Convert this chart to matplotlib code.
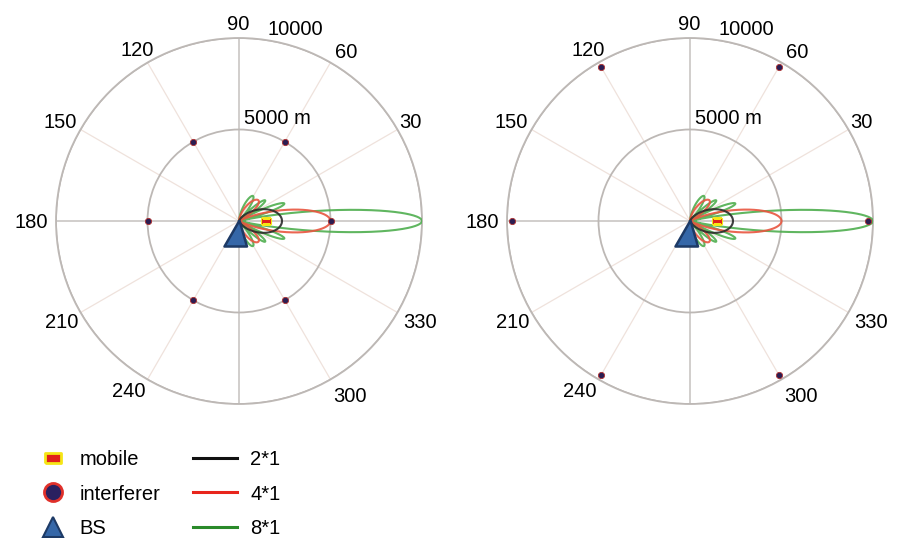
import numpy as np
import matplotlib.pyplot as plt
from matplotlib.lines import Line2D

plt.rcParams['font.family'] = ['Liberation Sans', 'DejaVu Sans']

# beams: array size, peak coverage range (m), colour
array_labels = ['2*1', '4*1', '8*1']
n_elements = [2, 4, 8]
peak_range = [2350, 5000, 10000]
beam_colors = ['#2b2b2b', '#e8553f', '#4fae4f']

# users
mobile_range = 1500
mobile_angle = 0
interferer_angles = [0, 60, 120, 180, 240, 300]
interferer_range = [5000, 9700]   # left panel, right panel

r_max = 10000
r_rings = [5000, 10000]
ring_labels = ['5000 m', '10000']
theta_label_angles = [30, 60, 90, 120, 150, 180, 210, 240, 300, 330]
theta_labels = ['30', '60', '90', '120', '150', '180', '210', '240', '300', '330']

# where each angle label sits relative to its point on the outer ring (pixels)
label_shift = [(12.5, 7.5), (15.5, 10.5), (-1, 14), (-10.5, 12.5), (-20.5, 6.5),
               (-25, -1), (-18.5, -9.5), (-18.5, -12.5), (19.5, -17.5), (22.5, -9.5)]

FS = 14.5
bs_marker = [(0, 0.04), (-0.6, -1), (0.3, -1), (0, 0.04)]
mobile_marker = [(-1, -0.6), (1, -0.6), (1, 0.6), (-1, 0.6), (-1, -0.6)]


def beam_pattern(n, r_peak, spacing=0.5, p_main=1.8, p_side=0.9):
    # uniform linear array factor, front half-plane only;
    # main lobe and side lobes are scaled to range separately
    th = np.linspace(-np.pi / 2, np.pi / 2, 2001)
    psi = 2 * np.pi * spacing * np.sin(th)
    den = n * np.sin(psi / 2)
    safe = np.where(np.abs(den) < 1e-12, 1.0, den)
    af = np.where(np.abs(den) < 1e-12, 1.0, np.abs(np.sin(n * psi / 2) / safe))
    in_main = np.abs(np.sin(th)) < 1 / (n * spacing)
    return th, r_peak * af ** np.where(in_main, p_main, p_side)


def draw_panel(ax, r_int):
    ax.set_ylim(0, r_max)
    ax.set_yticks(r_rings)
    ax.set_yticklabels([])
    grid_angles = np.arange(0, 360, 30)
    ax.set_xticks(np.deg2rad(grid_angles))
    ax.set_xticklabels([])
    ax.tick_params(length=0)
    ax.spines['polar'].set_color('#bdb8b5')
    ax.spines['polar'].set_linewidth(1.3)
    for line in ax.yaxis.get_gridlines():
        line.set_color('#bdb8b5')
        line.set_linewidth(1.3)
        line.set_linestyle('-')
    for ang, line in zip(grid_angles, ax.xaxis.get_gridlines()):
        line.set_linestyle('-')
        if ang % 90 == 0:
            line.set_color('#c9c6c4')
            line.set_linewidth(1.2)
        else:
            line.set_color('#efe2dc')
            line.set_linewidth(0.9)

    # angle labels just outside the outer ring
    for ang, lab, (sx, sy) in zip(theta_label_angles, theta_labels, label_shift):
        ax.annotate(lab, (np.deg2rad(ang), r_max), xytext=(0.72 * sx, 0.72 * sy),
                    textcoords='offset points', ha='center', va='center', fontsize=FS,
                    annotation_clip=False)

    ax.annotate(ring_labels[0], (np.deg2rad(87), r_rings[0]), xytext=(0, 1.5),
                textcoords='offset points', ha='left', va='bottom', fontsize=FS)
    ax.annotate(ring_labels[1], (np.deg2rad(81), r_rings[1]), xytext=(0, 1),
                textcoords='offset points', ha='left', va='bottom', fontsize=FS,
                annotation_clip=False)

    # beams, widest first so the 2*1 lobe sits on top
    for n, rp, col, z in zip(n_elements[::-1], peak_range[::-1], beam_colors[::-1], [3, 4, 5]):
        th, rr = beam_pattern(n, rp)
        ax.plot(th, rr, color=col, lw=1.5, alpha=0.9, zorder=z)

    ax.plot(np.deg2rad(interferer_angles), [r_int] * len(interferer_angles), 'o', ls='none',
            ms=4.5, mfc='#2b1d52', mec='#b03030', mew=0.6, zorder=6)
    ax.plot(np.deg2rad(mobile_angle), mobile_range, marker=mobile_marker, ms=6.5,
            mfc='#e0201b', mec='#f5e616', mew=0.8, ls='none', zorder=7)
    ax.plot(0, 0, marker=bs_marker, ms=36, mfc='#3567a8', mec='#1d3a66', mew=1.8,
            ls='none', zorder=8, clip_on=False)


fig = plt.figure(figsize=(8.99, 5.38), dpi=100)
w, h = 366 / 899, 366 / 538
ax1 = fig.add_axes([56 / 899, 134 / 538, w, h], projection='polar')
ax2 = fig.add_axes([507 / 899, 134 / 538, w, h], projection='polar')
draw_panel(ax1, interferer_range[0])
draw_panel(ax2, interferer_range[1])

marker_handles = [
    Line2D([], [], ls='none', marker=mobile_marker, ms=11, mfc='#e0201b', mec='#f5e616', mew=2),
    Line2D([], [], ls='none', marker='o', ms=13, mfc='#2a2060', mec='#e0302a', mew=2),
    Line2D([], [], ls='none', marker='^', ms=15, mfc='#3567a8', mec='#1d3a66', mew=1.5),
]
fig.legend(marker_handles, ['mobile', 'interferer', 'BS'], loc='center left',
           bbox_to_anchor=(39 / 899, (538 - 494) / 538), frameon=False, fontsize=FS,
           handlelength=1.4, handletextpad=0.6, labelspacing=0.77, borderpad=0,
           borderaxespad=0)

line_handles = [Line2D([], [], color=c, lw=2.2) for c in ['#111111', '#e8251c', '#2a8a2a']]
fig.legend(line_handles, array_labels, loc='center left',
           bbox_to_anchor=(193 / 899, (538 - 494) / 538), frameon=False, fontsize=FS,
           handlelength=2.2, handletextpad=0.65, labelspacing=0.77, borderpad=0,
           borderaxespad=0)

fig.savefig('out.png', dpi=100)
